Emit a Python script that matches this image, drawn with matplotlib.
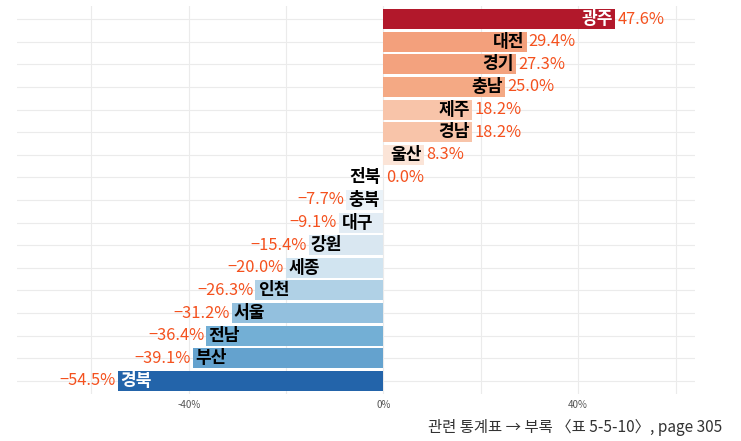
import matplotlib.pyplot as plt
import numpy as np

plt.rcParams['font.family'] = ['Noto Sans CJK KR', 'DejaVu Sans']

# 시도별 증감률 (위에서 아래 순서)
regions = ['광주', '대전', '경기', '충남', '제주', '경남', '울산', '전북',
           '충북', '대구', '강원', '세종', '인천', '서울', '전남', '부산', '경북']
rates = [47.6, 29.4, 27.3, 25.0, 18.2, 18.2, 8.3, 0.0,
         -7.7, -9.1, -15.4, -20.0, -26.3, -31.2, -36.4, -39.1, -54.5]
bar_colors = ['#B2182B', '#F3A07C', '#F3A27E', '#F4A984', '#F8C4A9', '#F8C4A9',
              '#FBE4D7', '#F7F7F7', '#EAF2F8', '#E2ECF4', '#D9E7F1', '#D1E4F0',
              '#B0D1E6', '#93C0DE', '#73AFD5', '#64A2CE', '#2364AA']
xticks = [-40, 0, 40]
xtick_labels = ['-40%', '0%', '40%']
caption = '관련 통계표 → 부록 〈표 5-5-10〉, page 305'

label_color = '#F4511E'

fig = plt.figure(figsize=(7.41, 4.41), dpi=100)
ax = fig.add_axes([17 / 741, 1 - 394.4 / 441, 678 / 741, 388.8 / 441])

n = len(regions)
ypos = np.arange(n)[::-1]

ax.set_xlim(-75.3, 64.0)
ax.set_ylim(-0.6, n - 1 + 0.6)

# 격자
for gx in [-60, -40, -20, 0, 20, 40, 60]:
    ax.axvline(gx, color='#EBEBEB', lw=0.8, zorder=0)
for gy in ypos:
    ax.axhline(gy, color='#EBEBEB', lw=0.8, zorder=0)

ax.barh(ypos, rates, height=0.88, color=bar_colors, zorder=2)

for y, name, v, c in zip(ypos, regions, rates, bar_colors):
    txt_col = 'white' if name in ('광주', '경북') else 'black'
    pad = 0.45
    if v >= 0:
        ax.text(v - pad, y, name, ha='right', va='center', fontsize=12.3,
                fontweight='bold', color=txt_col, zorder=3)
        ax.text(v + pad, y, f'{v:.1f}%', ha='left', va='center', fontsize=11.8,
                color=label_color, zorder=3)
    else:
        ax.text(v + pad, y, name, ha='left', va='center', fontsize=12.3,
                fontweight='bold', color=txt_col, zorder=3)
        ax.text(v - pad, y, f'{v:.1f}%'.replace('-', '−'), ha='right', va='center',
                fontsize=11.8, color=label_color, zorder=3)

ax.set_xticks(xticks)
ax.set_xticklabels(xtick_labels, fontsize=7, color='#555555')
ax.set_yticks([])
ax.tick_params(axis='x', length=0, pad=4)
for s in ax.spines.values():
    s.set_visible(False)

fig.text(722 / 741, 1 - 427 / 441, caption, ha='right', va='center',
         fontsize=11.1, color='#333333')

fig.savefig('out.png', dpi=100)
